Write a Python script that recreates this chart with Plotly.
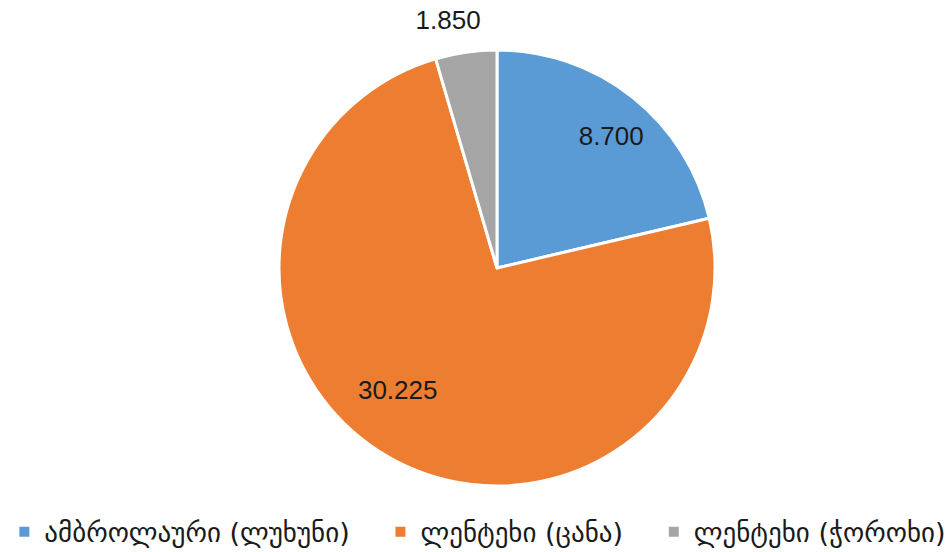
import plotly.graph_objects as go

labels = ["ამბროლაური (ლუხუნი)", "ლენტეხი (ცანა)", "ლენტეხი (ჭოროხი)"]
values = [8700, 30225, 1850]
value_text = ["8.700", "30.225", "1.850"]
colors = ["#5B9BD5", "#ED7D31", "#A5A5A5"]

W, H = 950, 552
cx, cy, r = 497, 268, 218

# per-label placement (style only): angular nudge, ring hole, radial pull, inside/outside
label_style = [
    dict(rot=2.5, hole=0.6, pull=0.0, pos="inside"),
    dict(rot=9.0, hole=0.44, pull=0.0, pos="inside"),
    dict(rot=6.0, hole=0.0, pull=0.07, pos="outside"),
]


def domain(radius):
    return dict(x=[(cx - radius) / W, (cx + radius) / W],
                y=[(H - cy - radius) / H, (H - cy + radius) / H])


# padded legend names (non-breaking spaces widen the gaps between entries)
legend_names = [labels[0] + "\u00a0\u00a0\u00a0", labels[1] + "\u00a0\u00a0\u00a0", labels[2]]

fig = go.Figure()
fig.add_trace(go.Pie(
    labels=legend_names,
    values=values,
    textinfo="none",
    automargin=False,
    sort=False,
    direction="clockwise",
    rotation=0,
    marker=dict(colors=colors, line=dict(color="white", width=3)),
    domain=domain(r),
    hovertemplate="%{label}: %{value}<extra></extra>",
))

# transparent label layers, one per slice label
for i, st in enumerate(label_style):
    pulls = [st["pull"] if j == i else 0 for j in range(len(values))]
    fig.add_trace(go.Pie(
        labels=legend_names,
        values=values,
        text=[value_text[j] if j == i else "" for j in range(len(values))],
        textinfo="text",
        textposition=st["pos"],
        insidetextorientation="horizontal",
        hole=st["hole"],
        pull=pulls,
        automargin=False,
        sort=False,
        direction="clockwise",
        rotation=st["rot"],
        showlegend=False,
        hoverinfo="skip",
        marker=dict(colors=["rgba(0,0,0,0)"] * 3, line=dict(width=0)),
        textfont=dict(family="Liberation Sans, DejaVu Sans", size=26, color="#1a1a1a"),
        domain=domain(r * (1 + max(pulls))),
    ))

fig.update_layout(
    width=W, height=H,
    margin=dict(l=0, r=0, t=0, b=0, autoexpand=False),
    paper_bgcolor="white",
    showlegend=True,
    legend=dict(
        orientation="h", x=0.503, xanchor="center", y=0.036, yanchor="middle",
        font=dict(family="DejaVu Sans, Liberation Sans", size=27, color="#1a1a1a"),
        itemsizing="constant",
    ),
)

fig.write_html("out.html", config={"displayModeBar": False},
               post_script="document.body.style.margin='0';")
